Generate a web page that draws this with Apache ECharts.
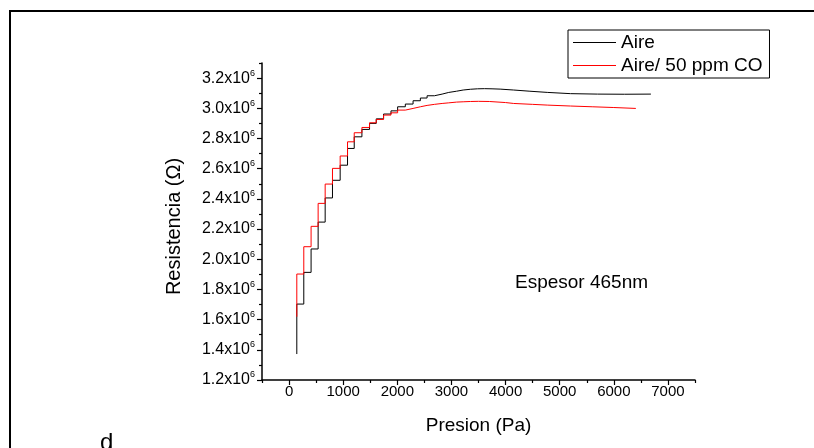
<!DOCTYPE html>
<html>
<head>
<meta charset="utf-8">
<script src="https://cdn.jsdelivr.net/npm/echarts@6/dist/echarts.min.js"></script>
<style>
html,body{margin:0;padding:0;background:#fff;}
#chart{width:814px;height:448px;}
</style>
</head>
<body>
<div id="chart"></div>
<script>
// ---- data ----
var seriesNames = ['Aire', 'Aire/ 50 ppm CO'];

var airePresion = [143, 272, 407, 537, 667, 802, 944, 1080, 1204, 1346, 1487, 1611, 1746, 1883, 2006, 2148, 2291, 2426, 2550, 2685, 2828, 2950, 3093, 3217, 3350, 3480, 3610, 3750, 3900, 4150, 4450, 4780, 5200, 5700, 6200, 6685];
var aireResistencia = [1372000, 1703000, 1913000, 2068000, 2246000, 2406000, 2523000, 2623000, 2734000, 2811000, 2860000, 2900000, 2930000, 2962000, 2983000, 3010000, 3028000, 3050000, 3068000, 3083000, 3094000, 3105000, 3113000, 3121000, 3126000, 3129000, 3130000, 3129000, 3127000, 3121000, 3113000, 3105000, 3097000, 3094000, 3093000, 3094000];

var coPresion = [143, 272, 407, 537, 667, 802, 944, 1080, 1204, 1346, 1487, 1611, 1746, 1883, 2006, 2148, 2291, 2426, 2550, 2685, 2828, 2950, 3093, 3217, 3350, 3500, 3700, 4000, 4150, 4500, 4780, 5200, 5600, 6000, 6407];
var coResistencia = [1619000, 1902000, 2083000, 2218000, 2370000, 2498000, 2602000, 2684000, 2778000, 2838000, 2873000, 2904000, 2926000, 2955000, 2970000, 2988000, 2999000, 3010000, 3019000, 3026000, 3032000, 3036000, 3041000, 3043000, 3045000, 3046000, 3045000, 3038000, 3032000, 3026000, 3021000, 3015000, 3010000, 3005000, 2999000];

var xMajorTicks = [0, 1000, 2000, 3000, 4000, 5000, 6000, 7000];
var xMinorTicks = [-500, 500, 1500, 2500, 3500, 4500, 5500, 6500, 7500];
var yMajorTicks = [1200000, 1400000, 1600000, 1800000, 2000000, 2200000, 2400000, 2600000, 2800000, 3000000, 3200000];
var yMinorTicks = [1300000, 1500000, 1700000, 1900000, 2100000, 2300000, 2500000, 2700000, 2900000, 3100000, 3300000];

var xTitle = 'Presion (Pa)';
var yTitle = 'Resistencia (\u03A9)';
var noteText = 'Espesor 465nm';
var panelLetter = 'd';

// ---- chart ----
function zip(a, b) { return a.map(function (v, i) { return [v, b[i]]; }); }

var FONT = '"Liberation Sans", Arial, sans-serif';
var chart = echarts.init(document.getElementById('chart'), null, { renderer: 'canvas' });

var axisCommon = {
  type: 'value',
  splitLine: { show: false },
  axisLine: { onZero: false, lineStyle: { color: '#000', width: 1.5 } }
};

chart.setOption({
  animation: false,
  backgroundColor: '#fff',
  grid: { left: 262, right: 119, top: 63, bottom: 68, containLabel: false },
  legend: {
    data: seriesNames,
    orient: 'vertical',
    left: 568, top: 30,
    padding: [3, 7, 3, 5],
    itemGap: 4,
    icon: 'rect',
    itemWidth: 43, itemHeight: 1,
    borderColor: '#000', borderWidth: 1,
    textStyle: { fontFamily: FONT, fontSize: 19, color: '#000', lineHeight: 19 }
  },
  xAxis: [
    Object.assign({}, axisCommon, {
      min: -500, max: 7500,
      position: 'bottom',
      name: xTitle, nameLocation: 'middle', nameGap: 36,
      nameTextStyle: { fontFamily: FONT, fontSize: 19, color: '#000' },
      axisTick: { show: true, customValues: xMajorTicks, length: 5, lineStyle: { color: '#000', width: 1.2 } },
      axisLabel: {
        customValues: xMajorTicks, margin: 4, fontFamily: FONT, fontSize: 15, color: '#000',
        formatter: function (v) { return String(v); }
      }
    }),
    Object.assign({}, axisCommon, {
      min: -500, max: 7500,
      position: 'bottom',
      axisLine: { show: false, onZero: false },
      axisTick: { show: true, customValues: xMinorTicks, length: 3, lineStyle: { color: '#000', width: 1.2 } },
      axisLabel: { show: false }
    })
  ],
  yAxis: [
    Object.assign({}, axisCommon, {
      min: 1200000, max: 3300000,
      position: 'left',
      name: yTitle, nameLocation: 'middle', nameGap: 78, nameRotate: 90,
      nameTextStyle: { fontFamily: FONT, fontSize: 20, color: '#000', padding: [0, 0, 0, -10] },
      axisTick: { show: true, customValues: yMajorTicks, length: 5, lineStyle: { color: '#000', width: 1.2 } },
      axisLabel: {
        customValues: yMajorTicks, margin: 7,
        formatter: function (v) { return '{b|' + (v / 1e6).toFixed(1) + 'x10}{s|6}'; },
        rich: {
          b: { fontFamily: FONT, fontSize: 16, color: '#000' },
          s: { fontFamily: FONT, fontSize: 9, color: '#000', padding: [0, 0, 10, 0] }
        }
      }
    }),
    Object.assign({}, axisCommon, {
      min: 1200000, max: 3300000,
      position: 'left',
      axisLine: { show: false, onZero: false },
      axisTick: { show: true, customValues: yMinorTicks, length: 3, lineStyle: { color: '#000', width: 1.2 } },
      axisLabel: { show: false }
    })
  ],
  series: [
    {
      name: seriesNames[0], type: 'line', step: 'start',
      xAxisIndex: 0, yAxisIndex: 0,
      symbol: 'none', showSymbol: false,
      color: '#000',
      lineStyle: { color: '#000', width: 1 },
      data: zip(airePresion, aireResistencia)
    },
    {
      name: seriesNames[1], type: 'line', step: 'start',
      xAxisIndex: 0, yAxisIndex: 0,
      symbol: 'none', showSymbol: false,
      color: '#ff0000',
      lineStyle: { color: '#ff0000', width: 1 },
      data: zip(coPresion, coResistencia)
    }
  ],
  graphic: [
    {
      type: 'rect', silent: true,
      shape: { x: 10, y: 11, width: 1200, height: 1200 },
      style: { fill: 'none', stroke: '#000', lineWidth: 2 }
    },
    {
      type: 'text', left: 515, top: 273,
      style: { text: noteText, fontFamily: FONT, fontSize: 19, fill: '#000' }
    },
    {
      type: 'text', x: 100, y: 431,
      style: { text: panelLetter, fontFamily: FONT, fontSize: 24, fill: '#000', verticalAlign: 'top' }
    }
  ]
});
</script>
</body>
</html>
